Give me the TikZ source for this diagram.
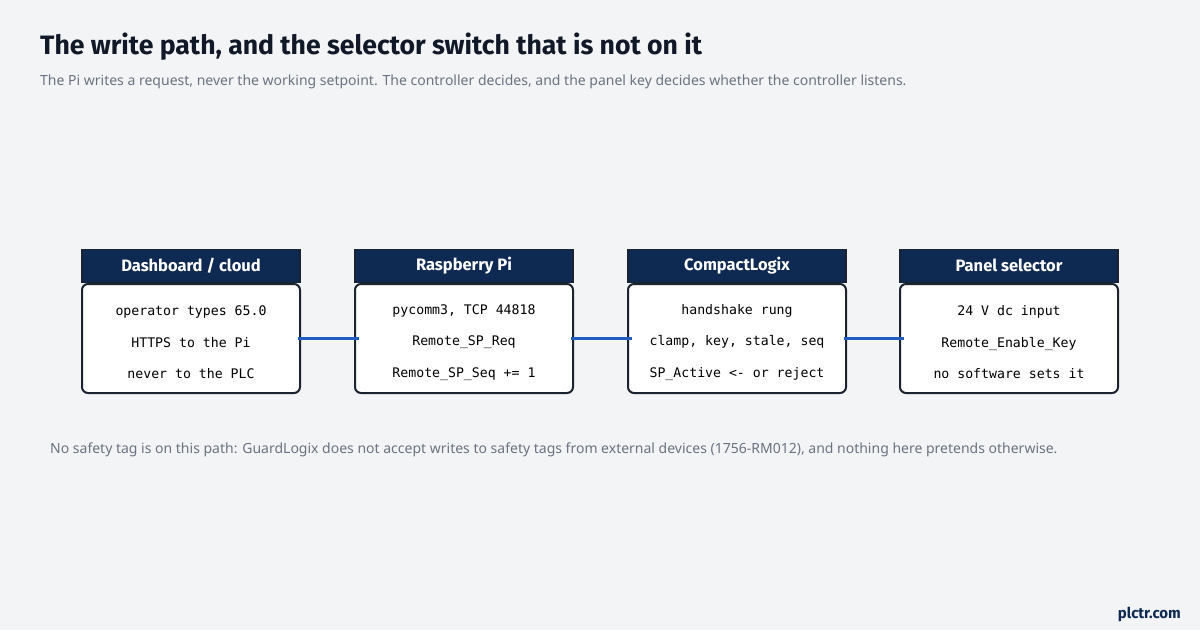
\documentclass[tikz,border=0pt]{standalone}
\usepackage{fontspec}
\setmainfont{Noto Sans}
\newfontfamily\headfont{Fira Sans}
\newfontfamily\codefont{DejaVu Sans Mono}
\usetikzlibrary{positioning}

\definecolor{pagebg}{HTML}{F3F4F6}
\definecolor{navy}{HTML}{0F2A52}
\definecolor{edge}{HTML}{1C2330}
\definecolor{titleink}{HTML}{111827}
\definecolor{greyink}{HTML}{6B7280}
\definecolor{wireblue}{HTML}{1F5EC0}

\tikzset{
  bodybox/.style={draw=edge, line width=2pt, fill=white, rounded corners=6pt,
    minimum width=218pt, minimum height=109pt, inner sep=0pt},
  bodytext/.style={inner sep=0pt, align=center,
    font=\codefont\fontsize{13.2}{31.5}\selectfont},
  headbox/.style={draw=edge, line width=1.5pt, fill=navy, text=white,
    minimum width=218pt, minimum height=33pt, inner sep=0pt,
    font=\headfont\bfseries\fontsize{16.5}{19}\selectfont},
  wire/.style={draw=wireblue, line width=3pt, shorten <=-3pt, shorten >=-5pt}
}

\begin{document}
\begin{tikzpicture}[x=1pt,y=-1pt]
%page
\fill[pagebg] (0,0) rectangle (1200,630);
\useasboundingbox (0,0) rectangle (1200,630);
%title and subtitle
\node[anchor=base west, inner sep=0pt, text=titleink, font=\headfont\bfseries\fontsize{26.6}{30}\selectfont]
  (title) at (40,54) {The write path, and the selector switch that is not on it};
\node[anchor=base west, inner sep=0pt, text=greyink, font=\fontsize{14}{17}\selectfont]
  (subtitle) at (40,85) {The Pi writes a request, never the working setpoint. The controller decides, and the panel key decides whether the controller listens.};
%boxes
\node[bodybox] (dash) at (191,338.5) {};
\node[headbox, anchor=south] (dashhead) at (dash.north) {Dashboard / cloud};
\node[bodytext] (dashtext) at ([yshift=-4pt]dash.center) {operator types 65.0\\HTTPS to the Pi\\never to the PLC};
\node[bodybox] (pi) at (464,338.5) {};
\node[headbox, anchor=south] (pihead) at (pi.north) {Raspberry Pi};
\node[bodytext] (pitext) at ([yshift=-4pt]pi.center) {pycomm3, TCP 44818\\Remote\_SP\_Req\\Remote\_SP\_Seq += 1};
\node[bodybox] (plc) at (737,338.5) {};
\node[headbox, anchor=south] (plchead) at (plc.north) {CompactLogix};
\node[bodytext] (plctext) at ([yshift=-4pt]plc.center) {handshake rung\\clamp, key, stale, seq\\SP\_Active <- or reject};
\node[bodybox] (key) at (1009,338.5) {};
\node[headbox, anchor=south] (keyhead) at (key.north) {Panel selector};
\node[bodytext] (keytext) at ([yshift=-4pt]key.center) {24 V dc input\\Remote\_Enable\_Key\\no software sets it};
%wires
\draw[wire] (dash.east) -- (pi.west);
\draw[wire] (pi.east) -- (plc.west);
\draw[wire] (plc.east) -- (key.west);
%footnote
\node[anchor=base west, inner sep=0pt, text=greyink, font=\fontsize{14}{17}\selectfont]
  (footnote) at (50,453) {No safety tag is on this path: GuardLogix does not accept writes to safety tags from external devices (1756-RM012), and nothing here pretends otherwise.};
\node[anchor=base east, inner sep=0pt, text=navy, font=\headfont\bfseries\fontsize{15}{18}\selectfont]
  (brand) at (1181,618) {plctr.com};
\end{tikzpicture}
\end{document}
